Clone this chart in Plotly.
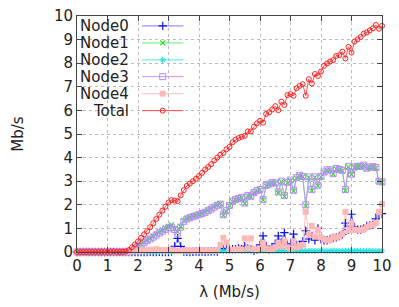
import plotly.graph_objects as go

lam = [round(i * 0.1, 1) for i in range(101)]

total = [0, 0, 0, 0, 0, 0, 0, 0, 0, 0,
         0, 0, 0.02, 0, 0, 0, 0.02, 0.08, 0.2, 0.32,
         0.45, 0.6, 0.75, 0.88, 1.05, 1.22, 1.4, 1.58, 1.75, 1.92,
         2.1, 2.2, 2.18, 2.15, 2.4, 2.62, 2.8, 2.9, 3.0, 3.1,
         3.22, 3.35, 3.5, 3.6, 3.72, 3.88, 4.0, 4.12, 4.2, 4.35,
         4.45, 4.65, 4.76, 4.83, 4.88, 4.92, 5.11, 5.11, 5.31, 5.45,
         5.56, 5.48, 5.85, 5.92, 6.04, 6.18, 6.01, 6.37, 6.23, 6.65,
         6.69, 6.62, 6.94, 7.04, 7.11, 6.62, 7.32, 7.14, 7.54, 7.46,
         7.65, 7.89, 7.99, 8.07, 8.13, 8.31, 8.34, 8.49, 8.2, 8.69,
         8.45, 8.92, 9.01, 9.11, 9.25, 9.3, 9.39, 9.48, 9.62, 9.46,
         9.58]

node3 = [0, 0, 0, 0, 0, 0, 0, 0, 0, 0,
         0, 0, 0, 0, 0, 0, 0, 0.01, 0.05, 0.12,
         0.2, 0.3, 0.39, 0.48, 0.55, 0.63, 0.72, 0.8, 0.88, 0.96,
         1.02, 1.05, 0.95, 0.8, 1.05, 1.3, 1.4, 1.45, 1.5, 1.53,
         1.58, 1.63, 1.68, 1.75, 1.82, 1.9, 1.98, 2.03, 1.58, 1.75,
         1.97, 2.15, 2.22, 2.27, 2.32, 2.08, 2.4, 2.36, 2.52, 2.6,
         2.65, 2.22, 2.82, 2.88, 2.94, 2.92, 2.55, 3.0, 2.4, 2.95,
         3.05, 2.62, 3.15, 3.25, 3.2, 2.0, 3.18, 2.65, 3.18, 2.83,
         3.2, 3.39, 3.48, 3.48, 3.32, 3.54, 3.5, 3.46, 2.65, 3.63,
         3.3, 3.6, 3.63, 3.63, 3.68, 3.55, 3.6, 3.62, 3.58, 3.0,
         2.97]

node1 = [0, 0, 0, 0, 0, 0, 0, 0, 0, 0,
         0, 0, 0, 0, 0, 0, 0, 0.01, 0.06, 0.14,
         0.23, 0.33, 0.42, 0.5, 0.58, 0.66, 0.76, 0.85, 0.93, 1.02,
         1.08, 1.15, 0.98, 0.85, 1.08, 1.32, 1.42, 1.47, 1.52, 1.55,
         1.6, 1.65, 1.7, 1.77, 1.84, 1.92, 2.0, 2.05, 1.55, 1.72,
         1.95, 2.13, 2.2, 2.25, 2.3, 2.05, 2.38, 2.34, 2.5, 2.58,
         2.63, 2.2, 2.8, 2.86, 2.92, 2.9, 2.5, 2.98, 2.36, 2.93,
         3.03, 2.58, 3.13, 3.23, 3.18, 1.95, 3.16, 2.6, 3.16, 2.8,
         3.18, 3.37, 3.46, 3.46, 3.3, 3.52, 3.48, 3.44, 2.6, 3.61,
         3.28, 3.58, 3.61, 3.61, 3.66, 3.53, 3.58, 3.6, 3.56, 2.98,
         2.95]

node0 = [0, 0, 0, 0, 0, 0, 0, 0, 0, 0,
         0, 0, 0, 0, 0, 0, 0, 0, 0, 0,
         0, 0, 0, 0, 0.01, 0, 0, 0.01, 0, 0,
         0, 0.02, 0.24, 0.58, 0.24, 0.02, 0.01, 0, 0.01, 0.02,
         0.01, 0.02, 0.01, 0.02, 0.02, 0.03, 0.02, 0.15, 0.12, 0.15,
         0.1, 0.12, 0.12, 0.15, 0.12, 0.25, 0.15, 0.12, 0.05, 0.1,
         0.3, 0.68, 0.25, 0.1, 0.2, 0.35, 0.68, 0.4, 0.82, 0.3,
         0.35, 0.76, 0.3, 0.3, 0.45, 0.9, 0.55, 0.68, 0.5, 1.0,
         0.55, 0.5, 0.5, 0.55, 0.6, 0.62, 0.68, 0.75, 1.22, 0.95,
         1.6, 1.05, 0.95, 0.95, 1.0, 1.1, 1.12, 1.15, 1.4, 1.6,
         1.63]

node4 = [0, 0, 0, 0, 0, 0, 0, 0, 0, 0,
         0, 0, 0, 0, 0, 0, 0, 0.02, 0.05, 0.06,
         0.06, 0.05, 0.07, 0.06, 0.1, 0.08, 0.12, 0.08, 0.06, 0.07,
         0.08, 0.1, 0.06, 0.04, 0.06, 0.05, 0.08, 0.06, 0.05, 0.07,
         0.06, 0.08, 0.06, 0.05, 0.06, 0.05, 0.08, 0.3, 0.6, 0.4,
         0.1, 0.08, 0.1, 0.12, 0.1, 0.58, 0.15, 0.58, 0.1, 0.1,
         0.15, 0.37, 0.15, 0.1, 0.12, 0.2, 0.37, 0.25, 0.45, 0.2,
         0.15, 0.44, 0.2, 0.25, 0.3, 1.7, 0.72, 1.1, 0.65, 0.93,
         0.62, 0.54, 0.5, 0.5, 0.62, 0.62, 0.65, 0.76, 1.7, 0.93,
         1.2, 0.93, 0.93, 0.93, 0.96, 1.05, 1.14, 1.14, 1.24, 1.7,
         2.03]

node2 = [0, 0, 0, 0, 0, 0, 0, 0, 0, 0,
         0, 0, 0, 0, 0, 0, 0, 0, 0.01, 0.01,
         0.02, 0.01, 0.02, 0.01, 0.02, 0.02, 0.01, 0.02, 0.02, 0.01,
         0.02, 0.02, 0.01, 0.02, 0.02, 0.01, 0.02, 0.02, 0.03, 0.02,
         0.02, 0.03, 0.02, 0.02, 0.03, 0.02, 0.03, 0.04, 0.05, 0.04,
         0.05, 0.04, 0.05, 0.05, 0.04, 0.05, 0.05, 0.04, 0.05, 0.05,
         0.04, 0.05, 0.05, 0.05, 0.04, 0.05, 0.05, 0.04, 0.05, 0.05,
         0.05, 0.04, 0.05, 0.05, 0.05, 0.04, 0.05, 0.05, 0.04, 0.05,
         0.05, 0.05, 0.04, 0.05, 0.05, 0.05, 0.04, 0.05, 0.05, 0.05,
         0.04, 0.05, 0.05, 0.05, 0.04, 0.05, 0.05, 0.05, 0.04, 0.05,
         0.05]

series_names = ["Node0", "Node1", "Node2", "Node3", "Node4", "Total"]
series_values = [node0, node1, node2, node3, node4, total]
x_ticks = list(range(0, 11))
y_ticks = list(range(0, 11))

styles = [
    dict(line="rgba(80,80,255,0.75)", marker="#1010ee", symbol="cross-thin", size=6, mlw=1.2),
    dict(line="rgba(60,230,60,0.8)", marker="#30d830", symbol="x-thin", size=5, mlw=1.1),
    dict(line="rgba(40,230,230,0.85)", marker="#20e0e0", symbol="asterisk", size=5, mlw=1.0),
    dict(line="rgba(190,140,255,0.9)", marker="#b888ff", symbol="square-open", size=6, mlw=1.0),
    dict(line="rgba(255,185,185,0.9)", marker="#ffb8b8", symbol="square", size=6, mlw=0),
    dict(line="rgba(255,60,60,0.9)", marker="#ff2020", symbol="circle-open", size=5, mlw=1.0),
]

font = "DejaVu Sans"
fsize = 15
fig = go.Figure()

for name, vals, st in zip(series_names, series_values, styles):
    mk = dict(symbol=st["symbol"], size=st["size"], color=st["marker"])
    if st["mlw"]:
        mk["line"] = dict(color=st["marker"], width=st["mlw"])
    fig.add_trace(go.Scatter(
        x=lam, y=vals, mode="lines+markers", name=name,
        line=dict(color=st["line"], width=1), marker=mk,
        cliponaxis=False, showlegend=False,
    ))

# gnuplot-style key: text on the left, sample on the right (drawn on a hidden overlay axis)
key_x0, key_x1, key_text_x = 0.213, 0.349, 0.178
key_rows = [0.958, 0.886, 0.814, 0.743, 0.671, 0.599]
for name, st, ky in zip(series_names, styles, key_rows):
    mk = dict(symbol=st["symbol"], size=st["size"], color=st["marker"], opacity=[0, 1, 0])
    if st["mlw"]:
        mk["line"] = dict(color=st["marker"], width=st["mlw"])
    fig.add_trace(go.Scatter(
        x=[key_x0, (key_x0 + key_x1) / 2, key_x1], y=[ky, ky, ky],
        xaxis="x2", yaxis="y2", mode="lines+markers",
        line=dict(color=st["line"], width=1), marker=mk,
        showlegend=False, hoverinfo="skip", cliponaxis=False,
    ))
    fig.add_annotation(
        x=key_text_x, y=ky, xref="x2", yref="y2", text=name, showarrow=False,
        xanchor="right", yanchor="middle", font=dict(family=font, size=fsize, color="#222"),
    )

axis_common = dict(
    showline=True, linecolor="#444", linewidth=1, mirror="ticks",
    ticks="inside", ticklen=5, tickcolor="#444",
    showgrid=True, gridcolor="#bbbbbb", griddash="dot", gridwidth=1,
    zeroline=False, tickfont=dict(family=font, size=fsize, color="#222"),
    ticklabeloverflow="allow",
)

fig.update_layout(
    width=399, height=307,
    margin=dict(l=77, r=7, t=15, b=55),
    paper_bgcolor="white", plot_bgcolor="white",
    xaxis=dict(range=[0, 10], tickvals=x_ticks, **axis_common,
               title=dict(text="λ (Mb/s)", font=dict(family=font, size=fsize, color="#222"), standoff=12)),
    yaxis=dict(range=[0, 10], tickvals=y_ticks, **axis_common,
               title=dict(text="Mb/s", font=dict(family=font, size=fsize, color="#222"), standoff=26)),
    xaxis2=dict(range=[0, 1], overlaying="x", visible=False, fixedrange=True),
    yaxis2=dict(range=[0, 1], overlaying="y", visible=False, fixedrange=True),
    showlegend=False,
)

fig.write_html("out.html", config={"displayModeBar": False},
               post_script="document.body.style.margin='0';document.body.style.overflow='hidden';")
